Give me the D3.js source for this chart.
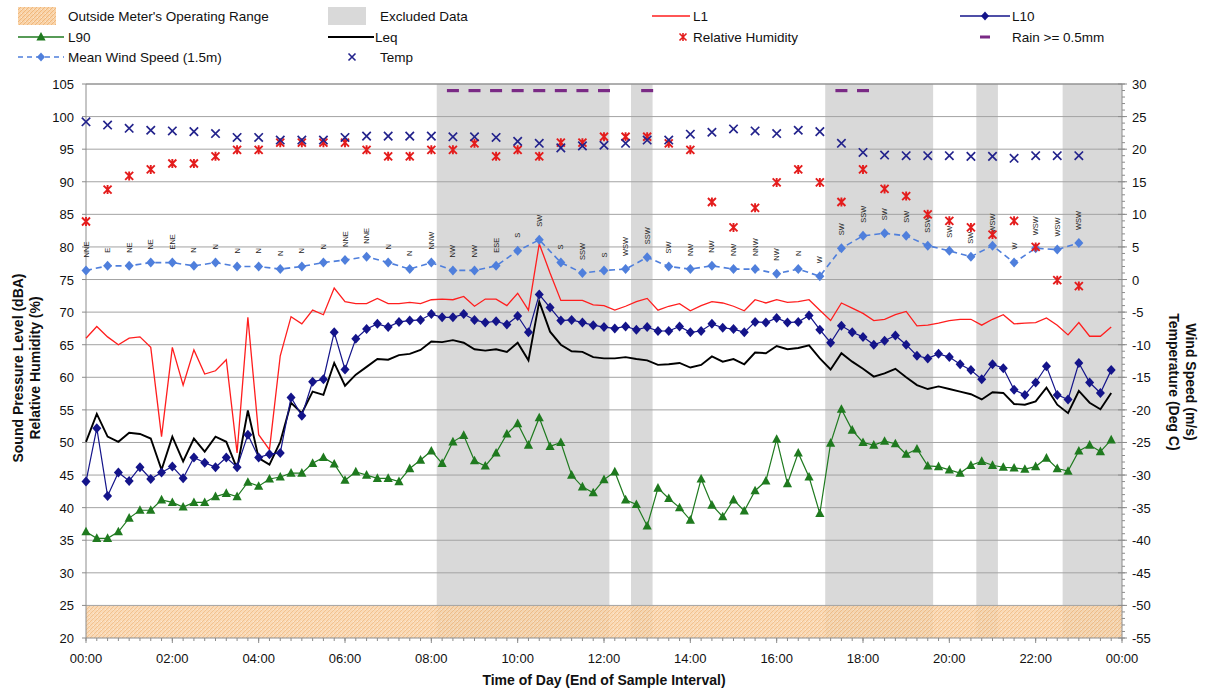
<!DOCTYPE html>
<html>
<head>
<meta charset="utf-8">
<script src="https://cdn.jsdelivr.net/npm/d3@7/dist/d3.min.js"></script>
<style>
  html, body { margin: 0; padding: 0; background: #fff; }
  svg { display: block; font-family: "Liberation Sans", Arial, sans-serif; }
</style>
</head>
<body>
<svg id="chart" width="1206" height="693"></svg>
<script>
// ---- Noise levels, 15-minute samples (dBA), 00:00 .. 23:45 ----
const l1 = [66.0,67.8,66.2,65.0,66.0,66.2,64.6,50.9,64.6,58.8,64.2,60.5,61.0,62.7,48.4,69.2,51.2,48.9,63.3,69.3,
  68.2,70.3,69.6,73.7,71.6,71.3,71.3,72.1,71.3,71.3,71.5,71.3,71.9,72.0,71.9,72.4,70.9,72.0,72.0,71.0,
  72.9,70.3,80.5,76.0,71.8,71.8,71.8,71.1,71.0,70.3,70.9,71.6,72.1,70.3,70.9,71.3,70.2,71.0,71.6,71.4,
  70.9,70.2,71.9,71.4,71.9,71.5,71.6,71.9,70.3,68.7,71.4,70.6,69.8,68.7,68.9,69.6,70.1,67.9,68.0,68.3,
  68.7,68.9,68.9,68.0,68.9,69.6,68.2,68.3,68.4,69.1,68.0,66.5,68.4,66.3,66.3,67.7];

const l10 = [44.0,52.2,41.8,45.4,44.1,46.2,44.4,45.4,46.3,44.5,47.7,46.9,46.2,47.7,46.2,51.2,47.7,48.2,48.4,56.9,
  54.1,59.3,59.7,66.9,61.2,65.9,67.4,68.2,67.7,68.5,68.7,68.8,69.7,69.2,69.2,69.7,68.8,68.4,68.6,68.1,
  69.4,66.9,72.7,70.7,68.7,68.8,68.4,68.0,67.7,67.5,67.8,67.3,67.7,67.1,67.1,67.8,66.9,67.1,68.2,67.6,
  67.4,66.9,68.5,68.4,69.1,68.4,68.5,69.5,67.3,65.3,67.9,66.9,66.2,65.0,65.6,66.4,65.0,63.3,62.9,63.6,
  63.1,62.0,61.1,59.7,62.0,61.4,58.1,57.3,59.2,61.7,57.3,56.6,62.2,59.2,57.6,61.1];

const l90 = [36.3,35.3,35.3,36.3,38.4,39.6,39.6,41.2,40.8,40.1,40.8,40.8,41.7,42.2,41.7,43.9,43.3,44.4,44.7,45.3,
  45.3,46.8,47.7,46.7,44.2,45.5,45.0,44.5,44.5,44.0,46.0,47.3,48.7,46.8,50.1,51.1,47.2,46.4,48.4,51.3,
  52.9,49.6,53.8,49.4,50.0,45.0,43.2,42.3,44.3,45.5,41.2,40.5,37.2,43.0,41.4,40.0,38.1,44.4,40.4,38.6,
  41.2,39.5,42.6,44.1,50.5,43.7,48.4,44.7,39.1,49.9,55.1,51.9,50.0,49.6,50.2,49.8,48.2,49.0,46.4,46.3,
  45.8,45.3,46.5,47.1,46.5,46.2,46.1,45.9,46.3,47.6,46.0,45.6,48.7,49.6,48.6,50.4];

const leq = [50.1,54.4,50.9,50.1,51.5,51.3,50.6,45.8,50.9,47.1,50.6,48.6,50.9,50.1,46.0,54.9,47.6,46.6,50.1,56.1,
  54.5,57.8,57.3,62.2,58.7,60.4,61.6,62.8,62.7,63.4,63.6,64.2,65.5,65.4,65.7,65.3,64.3,64.1,64.3,63.9,
  65.3,62.6,71.6,67.0,65.0,64.0,63.9,63.1,62.9,62.9,63.1,62.8,62.6,61.9,62.0,62.2,61.5,61.9,63.2,62.4,
  62.8,62.0,63.8,63.7,64.8,64.3,64.5,64.9,62.9,61.2,63.7,62.4,61.3,60.1,60.6,61.3,60.0,58.8,58.2,58.6,
  58.2,57.8,57.4,56.6,57.7,57.6,55.9,55.8,56.3,58.4,55.8,54.5,57.9,56.1,55.1,57.6];

// ---- Weather, 30-minute samples, 00:00 .. 23:00 ----
const humidity = [83.9,88.8,90.9,91.9,92.8,92.8,93.9,94.9,94.9,96.0,96.0,96.0,96.0,94.9,93.9,93.9,94.9,94.9,95.9,93.9,
  94.9,93.9,96.0,96.0,96.9,96.9,96.9,95.9,94.9,86.9,83.0,86.0,89.9,91.9,89.9,86.9,91.9,88.9,87.8,85.0,
  84.0,83.0,81.9,84.0,80.0,74.9,74.0];

const temperature = [24.2,23.7,23.2,22.9,22.8,22.7,22.4,21.8,21.8,21.4,21.4,21.4,21.8,22.0,22.0,22.0,22.0,21.9,21.9,21.8,
  21.2,20.9,20.2,20.5,20.6,20.9,21.4,21.4,22.3,22.6,23.1,22.8,22.4,22.9,22.7,20.9,19.5,19.1,19.0,19.0,
  19.0,18.9,18.9,18.6,19.0,19.0,19.0];

const windSpeed = [1.4,2.1,2.1,2.6,2.6,2.1,2.6,2.0,2.0,1.6,2.0,2.6,3.0,3.5,2.6,1.6,2.6,1.4,1.4,2.1,
  4.4,6.1,2.6,1.0,1.4,1.6,3.4,2.0,1.6,2.1,1.6,1.6,0.9,1.6,0.5,4.8,6.7,7.1,6.7,5.2,
  4.4,3.5,5.2,2.6,4.8,4.6,5.6];

const windDir = ["NNE","E","NE","NE","ENE","N","N","N","N","N","N","N","NNE","NNE","N","N","NNW","NW","NW","ESE",
  "S","SW","S","SSW","S","WSW","SSW","SW","NW","NW","NW","NNW","NW","N","W","SW","SSW","SW","SW","SSW",
  "SW","SW","WSW","W","WSW","WSW","WSW"];

// Half-hours with rain >= 0.5mm
const rainTimes = ["08:30","09:00","09:30","10:00","10:30","11:00","11:30","12:00","13:00","17:30","18:00"];

// Periods excluded from analysis
const excludedPeriods = [["08:07:30","12:07:30"],["12:37:30","13:07:30"],["17:07:30","19:37:30"],
  ["20:37:30","21:07:30"],["22:37:30","24:00:00"]];

// Axis ticks
const xTickLabels = ["00:00","02:00","04:00","06:00","08:00","10:00","12:00","14:00","16:00","18:00","20:00","22:00","00:00"];
const leftTicks = [20,25,30,35,40,45,50,55,60,65,70,75,80,85,90,95,100,105];
const rightTicks = [-55,-50,-45,-40,-35,-30,-25,-20,-15,-10,-5,0,5,10,15,20,25,30];

// Meter lower limit (dBA)
const meterFloor = 25;

// ---- helpers ----
const toHours = s => { const p = s.split(":").map(Number); return p[0] + p[1] / 60 + (p[2] || 0) / 3600; };
const fmt = d3.timeFormat("%H:%M");
const day0 = new Date(2000, 0, 1);
const times15 = d3.timeMinute.every(15).range(day0, new Date(2000, 0, 1, 23, 46)).map(fmt);
const times30 = d3.timeMinute.every(30).range(day0, new Date(2000, 0, 1, 23, 1)).map(fmt);

const svg = d3.select("#chart");
const plot = { left: 86, right: 1122, top: 84, bottom: 638 };

const x = d3.scaleLinear().domain([0, 24]).range([plot.left, plot.right]);
const y = d3.scaleLinear().domain([20, 105]).range([plot.bottom, plot.top]);
const yR = d3.scaleLinear().domain([-55, 30]).range([plot.bottom, plot.top]);

const defs = svg.append("defs");
const pat = defs.append("pattern").attr("id", "rangeHatch").attr("patternUnits", "userSpaceOnUse")
  .attr("width", 4).attr("height", 4);
pat.append("rect").attr("width", 4).attr("height", 4).attr("fill", "#f9d4aa");
pat.append("path").attr("d", "M0,4 L4,0").attr("stroke", "#eeb06e").attr("stroke-width", 0.8);
pat.append("rect").attr("x", 1).attr("y", 1).attr("width", 1).attr("height", 1).attr("fill", "#fbe6cf");

// Excluded data bands
svg.append("g").selectAll("rect").data(excludedPeriods).join("rect")
  .attr("x", d => x(toHours(d[0])))
  .attr("width", d => x(toHours(d[1])) - x(toHours(d[0])))
  .attr("y", plot.top).attr("height", plot.bottom - plot.top)
  .attr("fill", "#d9d9d9");

// Outside meter's operating range
svg.append("rect")
  .attr("x", plot.left).attr("width", plot.right - plot.left)
  .attr("y", y(meterFloor)).attr("height", y(20) - y(meterFloor))
  .attr("fill", "url(#rangeHatch)").attr("opacity", 0.85);

// Horizontal gridlines
svg.append("g").selectAll("line").data(leftTicks.filter(v => v > 20)).join("line")
  .attr("x1", plot.left).attr("x2", plot.right)
  .attr("y1", d => y(d)).attr("y2", d => y(d))
  .attr("stroke", "#a3a3a3").attr("stroke-width", 1);

// Axes
const axisColor = "#8c8c8c";
const gx = svg.append("g").attr("transform", `translate(0,${plot.bottom})`);
gx.append("line").attr("x1", plot.left).attr("x2", plot.right).attr("stroke", axisColor);
gx.selectAll("line.minor").data(d3.range(0, 24.01, 0.25)).join("line").attr("class", "minor")
  .attr("x1", d => x(d)).attr("x2", d => x(d)).attr("y1", 0).attr("y2", 3).attr("stroke", axisColor);
gx.selectAll("line.major").data(d3.range(0, 24.01, 2)).join("line").attr("class", "major")
  .attr("x1", d => x(d)).attr("x2", d => x(d)).attr("y1", 0).attr("y2", 5).attr("stroke", axisColor);
gx.selectAll("text").data(xTickLabels).join("text")
  .attr("x", (d, i) => x(i * 2)).attr("y", 25)
  .attr("text-anchor", "middle").attr("font-size", 13).attr("fill", "#111").text(d => d);

const gy = svg.append("g");
gy.append("line").attr("x1", plot.left).attr("x2", plot.left).attr("y1", plot.top).attr("y2", plot.bottom).attr("stroke", axisColor);
gy.selectAll("line.t").data(leftTicks).join("line").attr("class", "t")
  .attr("x1", plot.left - 4).attr("x2", plot.left).attr("y1", d => y(d)).attr("y2", d => y(d)).attr("stroke", axisColor);
gy.selectAll("text").data(leftTicks).join("text")
  .attr("x", plot.left - 12).attr("y", d => y(d) + 5)
  .attr("text-anchor", "end").attr("font-size", 13).attr("fill", "#111").text(d => d);

const gr = svg.append("g");
gr.append("line").attr("x1", plot.right).attr("x2", plot.right).attr("y1", plot.top).attr("y2", plot.bottom).attr("stroke", axisColor);
gr.selectAll("line.minor").data(d3.range(-55, 30.01, 1)).join("line").attr("class", "minor")
  .attr("x1", plot.right).attr("x2", plot.right + 3).attr("y1", d => yR(d)).attr("y2", d => yR(d)).attr("stroke", axisColor);
gr.selectAll("line.major").data(rightTicks).join("line").attr("class", "major")
  .attr("x1", plot.right - 4).attr("x2", plot.right + 5).attr("y1", d => yR(d)).attr("y2", d => yR(d)).attr("stroke", axisColor);
gr.selectAll("text").data(rightTicks).join("text")
  .attr("x", plot.right + 10).attr("y", d => yR(d) + 5)
  .attr("text-anchor", "start").attr("font-size", 13).attr("fill", "#111").text(d => d);

// top border
svg.append("line").attr("x1", plot.left).attr("x2", plot.right).attr("y1", plot.top).attr("y2", plot.top).attr("stroke", axisColor);

// Axis titles
svg.append("text").attr("x", (plot.left + plot.right) / 2).attr("y", 685)
  .attr("text-anchor", "middle").attr("font-size", 14).attr("font-weight", "bold").attr("fill", "#111")
  .text("Time of Day (End of Sample Interval)");
const lt = svg.append("text").attr("transform", "translate(23,368) rotate(-90)")
  .attr("text-anchor", "middle").attr("font-size", 14).attr("font-weight", "bold").attr("fill", "#111");
lt.append("tspan").attr("x", 0).attr("dy", 0).text("Sound Pressure Level (dBA)");
lt.append("tspan").attr("x", 0).attr("dy", 17).text("Relative Humidity (%)");
const rt = svg.append("text").attr("transform", "translate(1186,382) rotate(90)")
  .attr("text-anchor", "middle").attr("font-size", 14).attr("font-weight", "bold").attr("fill", "#111");
rt.append("tspan").attr("x", 0).attr("dy", 0).text("Wind Speed (m/s)");
rt.append("tspan").attr("x", 0).attr("dy", 17).text("Temperature (Deg C)");

// ---- marker shapes ----
const diamondPath = (w, h) => `M0,${-h} L${w},0 L0,${h} L${-w},0Z`;
const trianglePath = "M0,-5 L4.6,3.6 L-4.6,3.6Z";
const crossPath = s => `M${-s},${-s} L${s},${s} M${-s},${s} L${s},${-s}`;
const starPath = s => `M${-s},${-s} L${s},${s} M${-s},${s} L${s},${-s} M0,${-s - 0.5} L0,${s + 0.5}`;

const col = {
  l1: "#ff1e1e", l10: "#14148a", l90: "#1f7a1f", leq: "#000000",
  rh: "#e41c1c", rain: "#7a2a85", wind: "#4f7fdc", temp: "#23238c"
};

const xs15 = times15.map(toHours);
const xs30 = times30.map(toHours);

const line = (vals, xsArr, scale) => d3.line().x((d, i) => x(xsArr[i])).y(d => scale(d))(vals);

const series = svg.append("g");

// Wind speed (dashed)
series.append("path").attr("d", line(windSpeed, xs30, yR)).attr("fill", "none")
  .attr("stroke", col.wind).attr("stroke-width", 1.6).attr("stroke-dasharray", "6,4");

// L1
series.append("path").attr("d", line(l1, xs15, y)).attr("fill", "none")
  .attr("stroke", col.l1).attr("stroke-width", 1.3);
// Leq
series.append("path").attr("d", line(leq, xs15, y)).attr("fill", "none")
  .attr("stroke", col.leq).attr("stroke-width", 1.9);
// L10
series.append("path").attr("d", line(l10, xs15, y)).attr("fill", "none")
  .attr("stroke", col.l10).attr("stroke-width", 1.2);
series.append("g").selectAll("path").data(l10).join("path")
  .attr("transform", (d, i) => `translate(${x(xs15[i])},${y(d)})`)
  .attr("d", diamondPath(4.5, 5)).attr("fill", col.l10);
// L90
series.append("path").attr("d", line(l90, xs15, y)).attr("fill", "none")
  .attr("stroke", col.l90).attr("stroke-width", 1.2);
series.append("g").selectAll("path").data(l90).join("path")
  .attr("transform", (d, i) => `translate(${x(xs15[i])},${y(d)})`)
  .attr("d", trianglePath).attr("fill", col.l90);

// Wind diamonds + direction labels
series.append("g").selectAll("path").data(windSpeed).join("path")
  .attr("transform", (d, i) => `translate(${x(xs30[i])},${yR(d)})`)
  .attr("d", diamondPath(4.5, 5)).attr("fill", col.wind);
series.append("g").selectAll("text").data(windDir).join("text")
  .attr("transform", (d, i) => `translate(${x(xs30[i]) + 2.5},${yR(windSpeed[i]) - 13}) rotate(-90)`)
  .attr("text-anchor", "start").attr("font-size", 7.5).attr("fill", "#222").text(d => d);

// Relative humidity
series.append("g").selectAll("path").data(humidity).join("path")
  .attr("transform", (d, i) => `translate(${x(xs30[i])},${y(d)})`)
  .attr("d", starPath(4)).attr("fill", "none").attr("stroke", col.rh).attr("stroke-width", 1.9);

// Temperature
series.append("g").selectAll("path").data(temperature).join("path")
  .attr("transform", (d, i) => `translate(${x(xs30[i])},${yR(d)})`)
  .attr("d", crossPath(4.2)).attr("fill", "none").attr("stroke", col.temp).attr("stroke-width", 1.7);

// Rain markers along the top
series.append("g").selectAll("rect").data(rainTimes).join("rect")
  .attr("x", d => x(toHours(d)) - 6).attr("y", plot.top + 5)
  .attr("width", 12).attr("height", 3.2).attr("fill", col.rain);

// ---- Legend ----
const lg = svg.append("g").attr("font-size", 13.5).attr("fill", "#111");
const txt = (tx, ty, s) => lg.append("text").attr("x", tx).attr("y", ty + 4.5).text(s);
const r1 = 16, r2 = 37, r3 = 57;

lg.append("rect").attr("x", 18).attr("y", 7).attr("width", 38).attr("height", 18).attr("fill", "url(#rangeHatch)");
txt(68, r1, "Outside Meter's Operating Range");
lg.append("rect").attr("x", 328).attr("y", 7).attr("width", 38).attr("height", 18).attr("fill", "#d9d9d9");
txt(380, r1, "Excluded Data");
lg.append("line").attr("x1", 652).attr("x2", 690).attr("y1", r1).attr("y2", r1).attr("stroke", col.l1).attr("stroke-width", 1.5);
txt(693, r1, "L1");
lg.append("line").attr("x1", 960).attr("x2", 1010).attr("y1", r1).attr("y2", r1).attr("stroke", col.l10).attr("stroke-width", 1.5);
lg.append("path").attr("transform", `translate(985,${r1})`).attr("d", diamondPath(4, 4.5)).attr("fill", col.l10);
txt(1012, r1, "L10");

lg.append("line").attr("x1", 18).attr("x2", 64).attr("y1", r2).attr("y2", r2).attr("stroke", col.l90).attr("stroke-width", 1.5);
lg.append("path").attr("transform", `translate(41,${r2})`).attr("d", trianglePath).attr("fill", col.l90);
txt(68, r2, "L90");
lg.append("line").attr("x1", 328).attr("x2", 374).attr("y1", r2).attr("y2", r2).attr("stroke", col.leq).attr("stroke-width", 2);
txt(375, r2, "Leq");
lg.append("path").attr("transform", `translate(683,${r2})`).attr("d", starPath(3.5)).attr("fill", "none").attr("stroke", col.rh).attr("stroke-width", 1.6);
txt(693, r2, "Relative Humidity");
lg.append("rect").attr("x", 980).attr("y", r2 - 1.5).attr("width", 10).attr("height", 3).attr("fill", col.rain);
txt(1012, r2, "Rain >= 0.5mm");

lg.append("line").attr("x1", 18).attr("x2", 64).attr("y1", r3).attr("y2", r3).attr("stroke", col.wind).attr("stroke-width", 1.5).attr("stroke-dasharray", "5,4");
lg.append("path").attr("transform", `translate(41,${r3})`).attr("d", diamondPath(4, 4.5)).attr("fill", col.wind);
txt(68, r3, "Mean Wind Speed (1.5m)");
lg.append("path").attr("transform", `translate(352,${r3})`).attr("d", crossPath(3.5)).attr("fill", "none").attr("stroke", col.temp).attr("stroke-width", 1.6);
txt(380, r3, "Temp");
</script>
</body>
</html>
